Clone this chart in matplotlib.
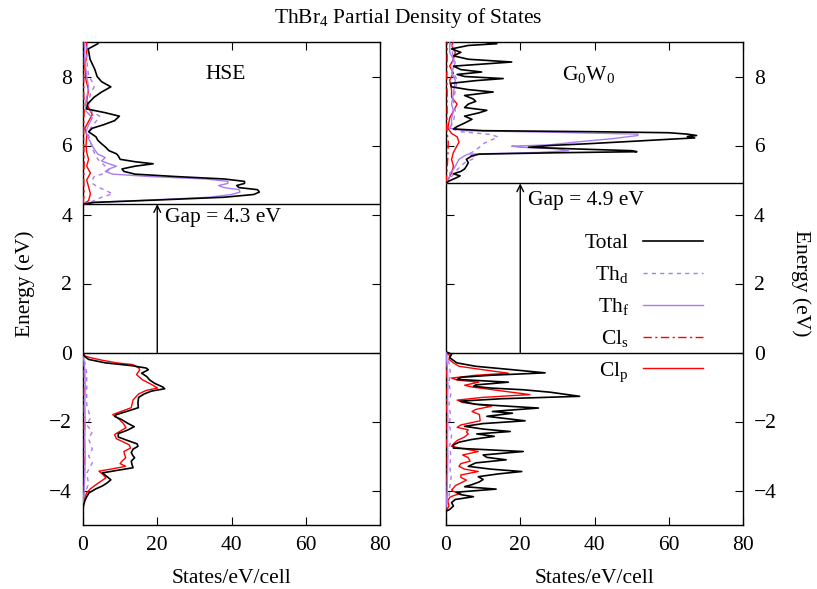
import matplotlib
matplotlib.use('Agg')
import matplotlib.pyplot as plt

plt.rcParams['font.family'] = ['Liberation Serif', 'DejaVu Serif']
plt.rcParams['mathtext.fontset'] = 'custom'
plt.rcParams['mathtext.rm'] = 'Liberation Serif'
plt.rcParams['mathtext.it'] = 'Liberation Serif:italic'

# ---------------- data ----------------
title = "ThBr$_4$ Partial Density of States"
panel_names = ["HSE", "G$_0$W$_0$"]
gaps = [4.3, 4.9]
gap_labels = ["Gap = 4.3 eV", "Gap = 4.9 eV"]
gap_label_E = [3.9, 4.42]
series_labels = ["Total", "Th$_\\mathrm{d}$", "Th$_\\mathrm{f}$", "Cl$_\\mathrm{s}$", "Cl$_\\mathrm{p}$"]
xticks = [0, 20, 40, 60, 80]
yticks = [-4, -2, 0, 2, 4, 6, 8]

# ---- HSE, conduction band ----
hse_cb_total_E = [4.30, 4.35, 4.42, 4.50, 4.58, 4.65, 4.72, 4.78, 4.84, 4.90, 4.96, 5.03, 5.10, 5.17, 5.25,
                  5.32, 5.40, 5.47, 5.53, 5.60, 5.70, 5.76, 5.85, 5.96, 6.05, 6.15, 6.25, 6.40, 6.50, 6.60,
                  6.72, 6.85, 6.95, 7.06, 7.20, 7.40, 7.55, 7.70, 7.85, 8.00, 8.20, 8.50, 8.80, 8.95, 9.00]
hse_cb_total = [0.0, 3.0, 20.0, 38.0, 46.0, 47.5, 47.0, 42.0, 41.4, 43.5, 43.5, 38.0, 25.0, 14.0, 11.0,
                10.5, 14.0, 18.9, 14.0, 10.0, 9.5, 9.0, 7.0, 6.0, 5.0, 4.0, 3.5, 1.5, 2.5, 5.5,
                8.5, 9.8, 6.0, 1.0, 1.2, 3.0, 5.0, 7.5, 5.0, 3.8, 3.2, 1.9, 1.4, 4.0, 4.0]
hse_cb_thd_E = [4.30, 4.40, 4.50, 4.60, 4.70, 4.80, 4.90, 5.00, 5.10, 5.20, 5.30, 5.40, 5.50, 5.60, 5.70,
                5.90, 6.10, 6.30, 6.50, 6.70, 6.85, 7.00, 7.20, 7.50, 7.70, 7.85, 8.00, 8.50, 9.00]
hse_cb_thd = [0.0, 3.0, 5.0, 8.0, 6.0, 4.0, 2.5, 2.5, 3.0, 6.0, 7.0, 6.0, 5.0, 4.0, 3.5,
              2.5, 2.0, 1.5, 2.0, 3.5, 4.5, 2.0, 1.5, 2.0, 3.0, 2.5, 1.5, 1.0, 1.0]
hse_cb_thf_E = [4.30, 4.35, 4.42, 4.50, 4.58, 4.65, 4.72, 4.78, 4.84, 4.90, 4.96, 5.03, 5.10, 5.17, 5.25,
                5.32, 5.40, 5.47, 5.55, 5.65, 5.75, 5.90, 6.00, 6.20, 6.40, 6.60, 6.80, 7.00, 7.20, 7.50,
                7.70, 8.00, 8.50, 9.00]
hse_cb_thf = [0.0, 2.5, 18.0, 34.0, 40.0, 42.3, 42.0, 38.0, 36.5, 39.0, 39.0, 33.0, 18.0, 8.0, 6.0,
              7.0, 9.0, 7.0, 5.0, 6.0, 4.0, 3.0, 2.5, 1.5, 0.8, 1.5, 2.5, 0.8, 0.6, 1.2,
              1.5, 1.0, 0.5, 0.5]
hse_cb_cls_E = [4.30, 4.60, 5.00, 5.50, 6.00, 6.50, 7.00, 7.50, 8.00, 8.50, 9.00]
hse_cb_cls = [0.0, 0.3, 0.2, 0.3, 0.2, 0.2, 0.3, 0.2, 0.2, 0.3, 0.3]
hse_cb_clp_E = [4.30, 4.40, 4.60, 4.80, 5.00, 5.20, 5.40, 5.60, 5.80, 6.00, 6.30, 6.50, 6.70, 6.90, 7.10,
                7.30, 7.60, 7.90, 8.30, 8.60, 9.00]
hse_cb_clp = [0.0, 1.5, 2.0, 1.5, 1.0, 2.0, 1.0, 1.5, 1.0, 0.8, 1.0, 0.5, 1.5, 2.5, 1.5,
              1.0, 1.5, 0.8, 0.5, 1.0, 1.0]

# ---- HSE, valence band ----
hse_vb_total_E = [0.0, -0.1, -0.2, -0.3, -0.38, -0.45, -0.5, -0.6, -0.7, -0.8, -0.9, -1.0, -1.05, -1.12, -1.2,
                  -1.3, -1.45, -1.6, -1.7, -1.8, -1.85, -1.95, -2.05, -2.15, -2.25, -2.35, -2.45, -2.55, -2.65,
                  -2.72, -2.8, -2.9, -3.0, -3.05, -3.15, -3.25, -3.34, -3.42, -3.49, -3.6, -3.69, -3.78, -3.87,
                  -3.95, -4.07, -4.2, -4.3, -4.45, -4.6]
hse_vb_total = [0.0, 0.3, 1.5, 6.0, 13.0, 17.0, 17.6, 15.8, 17.2, 18.0, 19.4, 21.5, 22.0, 18.4, 16.5,
                15.0, 14.8, 14.9, 12.0, 9.0, 8.5, 10.5, 12.0, 13.8, 12.0, 9.5, 9.5, 12.0, 14.6,
                14.8, 13.5, 13.0, 13.5, 13.9, 13.0, 13.2, 13.5, 9.0, 5.2, 6.5, 7.5, 6.5, 5.2,
                3.5, 1.6, 0.9, 0.5, 0.1, 0.0]
hse_vb_thd_E = [0.0, -0.3, -0.6, -1.0, -1.5, -1.9, -2.1, -2.3, -2.5, -2.8, -3.0, -3.2, -3.5, -3.8, -4.1, -4.4]
hse_vb_thd = [0.0, 0.5, 1.0, 1.0, 1.0, 2.0, 1.0, 2.5, 1.5, 2.5, 1.5, 2.5, 1.0, 1.5, 0.5, 0.0]
hse_vb_thf_E = [0.0, -0.5, -1.0, -1.5, -2.0, -2.5, -3.0, -3.5, -4.0, -4.4]
hse_vb_thf = [0.0, 0.5, 0.6, 0.5, 0.6, 0.5, 0.6, 0.5, 0.3, 0.0]
hse_vb_cls_E = [0.0, -0.5, -1.0, -1.5, -2.0, -2.5, -3.0, -3.5, -4.0, -4.4]
hse_vb_cls = [0.0, 0.2, 0.3, 0.2, 0.3, 0.3, 0.3, 0.4, 0.3, 0.0]
hse_vb_clp_E = [0.0, -0.1, -0.15, -0.22, -0.3, -0.35, -0.45, -0.5, -0.64, -0.79, -0.9, -1.03, -1.1, -1.2,
                -1.37, -1.5, -1.6, -1.7, -1.8, -1.94, -2.05, -2.18, -2.28, -2.38, -2.5, -2.6, -2.68, -2.77,
                -2.87, -2.95, -3.05, -3.15, -3.22, -3.3, -3.37, -3.44, -3.55, -3.63, -3.72, -3.8, -3.95,
                -4.07, -4.2, -4.3, -4.45, -4.6]
hse_vb_clp = [0.0, 0.5, 2.0, 5.0, 9.0, 13.5, 15.0, 15.3, 14.4, 16.0, 18.0, 20.1, 17.0, 15.0,
              13.5, 13.2, 13.0, 10.5, 8.0, 9.8, 10.8, 11.6, 10.0, 8.5, 9.0, 11.0, 12.5, 12.8,
              11.0, 11.2, 11.5, 10.5, 10.0, 11.5, 8.0, 4.3, 5.5, 6.2, 5.0, 3.9, 2.0,
              1.0, 0.5, 0.2, 0.0, 0.0]

# ---- G0W0, conduction band ----
gw_cb_total_E = [4.92, 4.98, 5.05, 5.12, 5.18, 5.25, 5.32, 5.40, 5.50, 5.60, 5.70, 5.75, 5.79, 5.82, 5.85,
                 5.90, 5.95, 6.00, 6.05, 6.12, 6.18, 6.22, 6.26, 6.29, 6.33, 6.37, 6.40, 6.43, 6.48, 6.55,
                 6.65, 6.76, 6.85, 6.95, 7.02, 7.10, 7.20, 7.28, 7.35, 7.45, 7.55, 7.62, 7.70, 7.80, 7.88,
                 7.94, 8.00, 8.06, 8.13, 8.20, 8.30, 8.42, 8.50, 8.60, 8.70, 8.80, 8.90, 8.95, 9.00]
gw_cb_total = [0.0, 1.0, 2.5, 3.8, 2.0, 4.0, 5.0, 5.5, 6.0, 5.5, 7.0, 9.0, 30.0, 51.4, 50.0,
               35.0, 22.2, 28.0, 38.0, 50.0, 60.0, 67.0, 65.0, 67.5, 65.0, 60.0, 40.0, 10.0, 2.0, 3.0,
               5.0, 7.0, 5.0, 9.0, 11.0, 5.0, 6.0, 8.0, 7.3, 5.0, 12.7, 6.0, 1.5, 1.2, 8.0,
               15.4, 5.0, 3.0, 9.6, 4.0, 2.0, 17.7, 6.0, 2.0, 4.0, 1.5, 6.0, 13.7, 10.0]
gw_cb_thd_E = [4.90, 5.10, 5.30, 5.50, 5.65, 5.75, 5.80, 5.95, 6.05, 6.15, 6.25, 6.32, 6.40, 6.50, 6.70,
               7.00, 7.30, 7.60, 7.90, 8.20, 8.50, 8.90, 9.00]
gw_cb_thd = [0.0, 1.5, 3.0, 5.0, 8.0, 6.0, 7.0, 9.0, 10.0, 12.0, 14.0, 12.0, 4.0, 1.0, 2.0,
             2.5, 2.0, 2.5, 3.0, 1.5, 2.0, 1.5, 1.0]
gw_cb_thf_E = [4.90, 5.00, 5.10, 5.20, 5.30, 5.40, 5.50, 5.60, 5.70, 5.75, 5.80, 5.85, 5.90, 5.95, 5.98,
               6.02, 6.10, 6.20, 6.29, 6.33, 6.38, 6.43, 6.50, 6.60, 6.80, 7.00, 7.20, 7.50, 7.90, 8.10,
               8.40, 8.70, 9.00]
gw_cb_thf = [0.0, 0.5, 1.0, 1.0, 2.0, 2.5, 3.0, 3.5, 5.0, 6.0, 25.0, 33.0, 30.0, 20.0, 17.7,
             28.0, 35.0, 45.0, 51.7, 51.7, 30.0, 5.0, 1.0, 1.5, 1.5, 2.0, 1.5, 2.0, 2.5, 1.5,
             2.5, 1.0, 1.0]
gw_cb_cls_E = [4.90, 5.30, 5.70, 6.10, 6.50, 7.00, 7.50, 8.00, 8.50, 9.00]
gw_cb_cls = [0.0, 0.3, 0.5, 0.6, 0.2, 0.3, 0.3, 0.2, 0.3, 0.3]
gw_cb_clp_E = [4.90, 5.00, 5.20, 5.40, 5.60, 5.80, 6.00, 6.10, 6.25, 6.35, 6.50, 6.80, 7.00, 7.20, 7.40,
               7.60, 7.90, 8.10, 8.30, 8.50, 8.70, 8.90, 9.00]
gw_cb_clp = [0.0, 0.5, 1.5, 2.0, 1.5, 2.0, 3.0, 3.5, 3.0, 1.5, 0.5, 1.0, 2.0, 3.0, 1.5,
             1.5, 1.0, 2.0, 1.0, 2.0, 2.5, 1.5, 2.0]

# ---- G0W0, valence band ----
gw_vb_total_E = [0.0, -0.05, -0.15, -0.3, -0.4, -0.5, -0.59, -0.66, -0.72, -0.78, -0.86, -0.94, -0.98, -1.03,
                 -1.08, -1.15, -1.27, -1.34, -1.41, -1.5, -1.61, -1.68, -1.71, -1.76, -1.85, -1.98, -2.06,
                 -2.14, -2.22, -2.29, -2.36, -2.43, -2.52, -2.6, -2.68, -2.77, -2.87, -2.97, -3.04, -3.11,
                 -3.2, -3.3, -3.38, -3.45, -3.52, -3.6, -3.68, -3.75, -3.83, -3.89, -3.96, -4.05, -4.12,
                 -4.18, -4.26, -4.35, -4.45, -4.55, -4.6]
gw_vb_total = [0.5, 1.5, 1.0, 2.9, 8.0, 18.0, 26.7, 12.0, 4.0, 3.0, 16.8, 8.0, 7.4, 12.0,
               20.8, 28.0, 36.0, 15.0, 3.8, 8.0, 24.9, 16.0, 12.5, 17.9, 11.0, 21.3, 10.0,
               5.0, 10.0, 17.3, 8.3, 13.0, 7.0, 3.5, 2.0, 2.0, 20.8, 10.0, 11.0, 16.2,
               8.0, 6.0, 12.0, 20.4, 14.0, 8.7, 10.0, 9.0, 7.0, 5.0, 13.5, 2.7, 4.0,
               7.4, 2.5, 1.5, 2.0, 1.0, 0.0]
gw_vb_thd_E = [0.0, -0.3, -0.6, -0.9, -1.2, -1.5, -1.8, -2.1, -2.4, -2.7, -3.0, -3.3, -3.6, -3.9, -4.2, -4.5]
gw_vb_thd = [0.0, 0.8, 1.2, 0.8, 1.3, 0.8, 1.2, 0.9, 1.5, 1.0, 1.3, 1.0, 1.4, 1.0, 0.8, 0.0]
gw_vb_thf_E = [0.0, -0.5, -1.0, -1.5, -2.0, -2.5, -3.0, -3.5, -4.0, -4.5]
gw_vb_thf = [0.0, 0.4, 0.5, 0.4, 0.5, 0.4, 0.5, 0.4, 0.3, 0.0]
gw_vb_cls_E = [0.0, -0.5, -1.0, -1.5, -2.0, -2.5, -3.0, -3.5, -4.0, -4.5]
gw_vb_cls = [0.0, 0.2, 0.3, 0.2, 0.3, 0.2, 0.3, 0.3, 0.3, 0.0]
gw_vb_clp_E = [0.0, -0.1, -0.2, -0.3, -0.4, -0.5, -0.6, -0.66, -0.74, -0.8, -0.86, -0.95, -1.0, -1.1, -1.22,
               -1.3, -1.38, -1.45, -1.56, -1.65, -1.71, -1.8, -1.98, -2.1, -2.17, -2.24, -2.3, -2.36, -2.45,
               -2.55, -2.65, -2.72, -2.87, -2.97, -3.05, -3.15, -3.22, -3.3, -3.38, -3.45, -3.55, -3.62,
               -3.7, -3.78, -3.86, -3.93, -3.98, -4.03, -4.08, -4.15, -4.2, -4.3, -4.45, -4.6]
gw_vb_clp = [0.3, 1.0, 0.8, 2.0, 3.5, 10.0, 16.8, 8.0, 1.5, 3.0, 8.8, 5.0, 7.0, 14.0, 22.6,
             10.0, 3.0, 4.5, 12.2, 8.0, 7.0, 9.0, 9.2, 4.0, 3.0, 6.0, 5.5, 6.0, 5.0,
             3.0, 2.0, 1.5, 8.7, 4.5, 6.0, 6.5, 4.0, 3.5, 5.0, 8.7, 4.0, 4.0,
             5.5, 4.0, 2.5, 2.0, 1.5, 2.0, 4.0, 2.0, 1.0, 0.5, 0.8, 0.0]

# ---------------- styles ----------------
C_BLACK = '#000000'
C_PURPLE = '#a97cf2'
C_RED = '#ff0000'
FS = 15.5

fig = plt.figure(figsize=(8.17, 5.89), dpi=100)
W, H = 817.0, 589.0
ax1 = fig.add_axes([83 / W, 1 - 525 / H, 297 / W, 483 / H])
ax2 = fig.add_axes([446 / W, 1 - 525 / H, 297 / W, 483 / H])

panels = [
    (ax1, [(hse_cb_total_E, hse_cb_total), (hse_vb_total_E, hse_vb_total)],
          [(hse_cb_thd_E, hse_cb_thd), (hse_vb_thd_E, hse_vb_thd)],
          [(hse_cb_thf_E, hse_cb_thf), (hse_vb_thf_E, hse_vb_thf)],
          [(hse_cb_cls_E, hse_cb_cls), (hse_vb_cls_E, hse_vb_cls)],
          [(hse_cb_clp_E, hse_cb_clp), (hse_vb_clp_E, hse_vb_clp)]),
    (ax2, [(gw_cb_total_E, gw_cb_total), (gw_vb_total_E, gw_vb_total)],
          [(gw_cb_thd_E, gw_cb_thd), (gw_vb_thd_E, gw_vb_thd)],
          [(gw_cb_thf_E, gw_cb_thf), (gw_vb_thf_E, gw_vb_thf)],
          [(gw_cb_cls_E, gw_cb_cls), (gw_vb_cls_E, gw_vb_cls)],
          [(gw_cb_clp_E, gw_cb_clp), (gw_vb_clp_E, gw_vb_clp)]),
]

styles = [
    dict(color=C_BLACK, lw=1.2, ls='-'),
    dict(color=C_PURPLE, lw=1.0, ls=(0, (3, 3))),
    dict(color=C_PURPLE, lw=1.0, ls='-'),
    dict(color=C_RED, lw=1.0, ls=(0, (6, 2.5, 1.5, 2.5))),
    dict(color=C_RED, lw=1.0, ls='-'),
]

for i, (ax, *series) in enumerate(panels):
    handles = []
    for k, segs in enumerate(series):
        for j, (E, d) in enumerate(segs):
            ln, = ax.plot(d, E, **styles[k], zorder=3 + (4 - k) * 0.1,
                          label=series_labels[k] if j == 0 else None)
            if j == 0:
                handles.append(ln)
    ax.axhline(0, color='k', lw=1.0, zorder=2)
    ax.axhline(gaps[i], color='k', lw=1.0, zorder=2)
    ax.annotate('', xy=(20, gaps[i]), xytext=(20, 0),
                arrowprops=dict(arrowstyle='->', color='k', lw=1.0,
                                shrinkA=0, shrinkB=0, mutation_scale=12))
    ax.text(22, gap_label_E[i], gap_labels[i], fontsize=FS, va='center', ha='left')
    ax.text(38.5, 8.05, panel_names[i], fontsize=FS, va='center', ha='center')
    ax.set_xlim(0, 80)
    ax.set_ylim(-5, 9)
    ax.set_xticks(xticks)
    ax.set_yticks(yticks)
    ax.tick_params(direction='in', top=True, right=True, length=6, width=0.8,
                   labelsize=FS)
    ax.tick_params(axis='x', pad=8)
    ax.tick_params(axis='y', pad=8)
    ax.set_xlabel('States/eV/cell', fontsize=FS, labelpad=10)
    for sp in ax.spines.values():
        sp.set_linewidth(1.0)

ax1.set_ylabel('Energy (eV)', fontsize=FS, labelpad=10)
ax2.tick_params(axis='y', labelleft=False, labelright=True)
ax2.yaxis.set_label_position('right')
ax2.set_ylabel('Energy (eV)', fontsize=FS, rotation=-90, labelpad=24)

ax2.legend(handles=handles, loc='upper right', bbox_to_anchor=(0.865, 0.604),
           frameon=False, markerfirst=False, fontsize=FS, handlelength=2.8,
           handletextpad=0.65, labelspacing=0.51, borderpad=0, borderaxespad=0)

fig.text(408 / W, 1 - 18 / H, title, fontsize=FS, ha='center', va='center')

fig.savefig('out.png', dpi=100)
